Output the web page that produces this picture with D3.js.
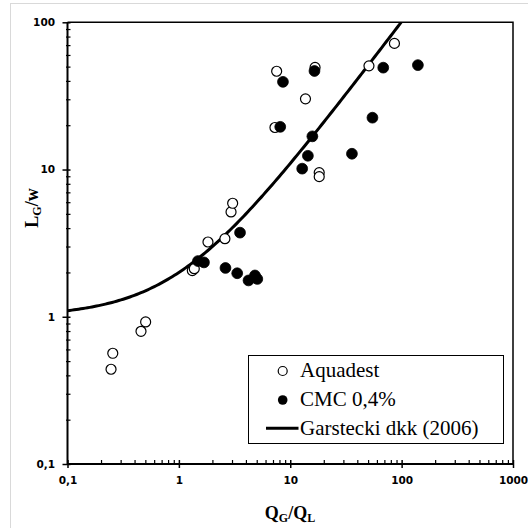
<!DOCTYPE html>
<html>
<head>
<meta charset="utf-8">
<script src="https://cdn.jsdelivr.net/npm/d3@7"></script>
<style>
  html, body { margin: 0; padding: 0; background: #fff; }
  svg { display: block; }
</style>
</head>
<body>
<script>
// Bubble length vs. gas/liquid flow ratio
const aquadestQ = [0.246, 0.255, 0.457, 0.503, 1.32, 1.375, 1.825, 2.59, 2.94, 3.04, 7.29, 7.55, 13.7, 16.7, 18.2, 18.2, 50.9, 86.2];
const aquadestL = [0.44, 0.565, 0.797, 0.922, 2.06, 2.12, 3.22, 3.39, 5.15, 5.9, 19.3, 46.5, 30.2, 49.4, 9.53, 8.95, 50.6, 71.9];

const cmcQ = [1.484, 1.68, 2.62, 3.34, 3.54, 4.22, 4.82, 5.06, 8.13, 8.6, 12.8, 14.4, 15.8, 16.5, 35.8, 54.7, 68.4, 140];
const cmcL = [2.39, 2.34, 2.145, 1.975, 3.727, 1.765, 1.908, 1.806, 19.5, 39.4, 10.14, 12.4, 16.8, 46.7, 12.8, 22.5, 49.2, 51.2];

// Garstecki et al. (2006) scaling law: L/w = 1 + alpha * QG/QL
const garsteckiAlpha = 1;

const xMajor = [0.1, 1, 10, 100, 1000];
const xMajorLabels = ["0,1", "1", "10", "100", "1000"];
const yMajor = [0.1, 1, 10, 100];
const yMajorLabels = ["0,1", "1", "10", "100"];

const legendLabels = ["Aquadest", "CMC 0,4%", "Garstecki dkk (2006)"];

const W = 528, H = 528;
const plotL = 67.5, plotR = 513, plotT = 22.3, plotB = 464;

const svg = d3.select("body").append("svg")
  .attr("width", W).attr("height", H);

// figure frame
svg.append("rect")
  .attr("x", 10.5).attr("y", 3.5)
  .attr("width", 540).attr("height", 540)
  .attr("fill", "#fff").attr("stroke", "#d9d9d9").attr("stroke-width", 1);

const x = d3.scaleLog().domain([0.1, 1000]).range([plotL, plotR]);
const y = d3.scaleLog().domain([0.1, 100]).range([plotB, plotT]);

function minors(domain) {
  const out = [];
  for (let d = domain[0]; d < domain[1] - 1e-9; d *= 10) {
    for (let k = 2; k <= 9; k++) out.push(+(d * k).toPrecision(3));
  }
  return out;
}

// plot frame (top and right)
svg.append("path")
  .attr("d", `M${plotL},${plotT}H${plotR}V${plotB}`)
  .attr("fill", "none").attr("stroke", "#000").attr("stroke-width", 1.5);

const tickFont = "'DejaVu Sans', Verdana, sans-serif";

// x axis
const gx = svg.append("g").attr("transform", `translate(0,${plotB})`);
gx.call(d3.axisBottom(x).tickValues(minors([0.1, 1000])).tickFormat("").tickSizeInner(-4).tickSizeOuter(0));
gx.selectAll(".tick line").attr("stroke-width", 1.2);
const gx2 = svg.append("g").attr("transform", `translate(0,${plotB})`);
gx2.call(d3.axisBottom(x).tickValues(xMajor).tickFormat((d, i) => xMajorLabels[i]).tickSizeInner(4).tickSizeOuter(0).tickPadding(9));
gx2.selectAll(".tick line").attr("y1", -4).attr("stroke-width", 1.5);
gx2.selectAll(".tick text")
  .attr("font-family", tickFont).attr("font-weight", "bold").attr("font-size", 10.5).attr("fill", "#000");
svg.selectAll(".domain").remove();
svg.append("line").attr("x1", plotL).attr("x2", plotR).attr("y1", plotB).attr("y2", plotB)
  .attr("stroke", "#000").attr("stroke-width", 2);

// y axis
const gy = svg.append("g").attr("transform", `translate(${plotL},0)`);
gy.call(d3.axisLeft(y).tickValues(minors([0.1, 100])).tickFormat("").tickSizeInner(2).tickSizeOuter(0));
gy.selectAll(".tick line").attr("x2", -1.5).attr("x1", 3).attr("stroke-width", 1.2);
const gy2 = svg.append("g").attr("transform", `translate(${plotL},0)`);
gy2.call(d3.axisLeft(y).tickValues(yMajor).tickFormat((d, i) => yMajorLabels[i]).tickSizeInner(5).tickSizeOuter(0).tickPadding(7.5));
gy2.selectAll(".tick line").attr("x1", 3).attr("stroke-width", 1.5);
gy2.selectAll(".tick text")
  .attr("font-family", tickFont).attr("font-weight", "bold").attr("font-size", 10.5).attr("fill", "#000");
svg.selectAll(".domain").remove();
svg.append("line").attr("x1", plotL).attr("x2", plotL).attr("y1", plotT).attr("y2", plotB)
  .attr("stroke", "#000").attr("stroke-width", 2);

// axis titles
const serif = "'Liberation Serif', 'Times New Roman', serif";
const xt = svg.append("text")
  .attr("x", 290).attr("y", 519)
  .attr("text-anchor", "middle")
  .attr("font-family", serif).attr("font-weight", "bold").attr("font-size", 18);
xt.append("tspan").text("Q");
xt.append("tspan").attr("font-size", 12).attr("dy", 3).text("G");
xt.append("tspan").attr("dy", -3).text("/Q");
xt.append("tspan").attr("font-size", 12).attr("dy", 3).text("L");

const yt = svg.append("text")
  .attr("transform", "translate(38,208) rotate(-90)")
  .attr("text-anchor", "middle")
  .attr("font-family", serif).attr("font-weight", "bold").attr("font-size", 18);
yt.append("tspan").text("L");
yt.append("tspan").attr("font-size", 12).attr("dy", 3).text("G");
yt.append("tspan").attr("dy", -3).text("/w");

// clip for plot area
svg.append("clipPath").attr("id", "plotClip")
  .append("rect").attr("x", plotL).attr("y", plotT).attr("width", plotR - plotL).attr("height", plotB - plotT);

// model curve
const curveQ = d3.range(-1, 3.0001, 0.02).map(e => Math.pow(10, e));
const line = d3.line().x(d => x(d)).y(d => y(1 + garsteckiAlpha * d));
svg.append("path")
  .datum(curveQ)
  .attr("clip-path", "url(#plotClip)")
  .attr("d", line)
  .attr("fill", "none").attr("stroke", "#000").attr("stroke-width", 3);

const R = 5;
// Aquadest (open markers)
svg.append("g").selectAll("circle")
  .data(aquadestQ.map((q, i) => [q, aquadestL[i]]))
  .join("circle")
  .attr("cx", d => x(d[0])).attr("cy", d => y(d[1])).attr("r", R)
  .attr("fill", "#fff").attr("stroke", "#000").attr("stroke-width", 1.2);

// CMC 0,4% (filled markers)
svg.append("g").selectAll("circle")
  .data(cmcQ.map((q, i) => [q, cmcL[i]]))
  .join("circle")
  .attr("cx", d => x(d[0])).attr("cy", d => y(d[1])).attr("r", R + 0.4)
  .attr("fill", "#000").attr("stroke", "#000").attr("stroke-width", 0.8);

// legend
const lg = svg.append("g");
lg.append("rect")
  .attr("x", 248.5).attr("y", 355.5).attr("width", 255).attr("height", 88)
  .attr("fill", "#fff").attr("stroke", "#000").attr("stroke-width", 1);
lg.append("circle").attr("cx", 282.7).attr("cy", 371).attr("r", 4.5)
  .attr("fill", "#fff").attr("stroke", "#000").attr("stroke-width", 1.2);
lg.append("circle").attr("cx", 282.7).attr("cy", 400).attr("r", 4.8)
  .attr("fill", "#000");
lg.append("line").attr("x1", 266).attr("x2", 298.5).attr("y1", 428.3).attr("y2", 428.3)
  .attr("stroke", "#000").attr("stroke-width", 3);
const legendY = [377, 406, 435];
lg.selectAll("text.lab")
  .data(legendLabels)
  .join("text")
  .attr("class", "lab")
  .attr("x", 300).attr("y", (d, i) => legendY[i])
  .attr("font-family", serif).attr("font-size", 21).attr("fill", "#000")
  .text(d => d);
</script>
</body>
</html>
